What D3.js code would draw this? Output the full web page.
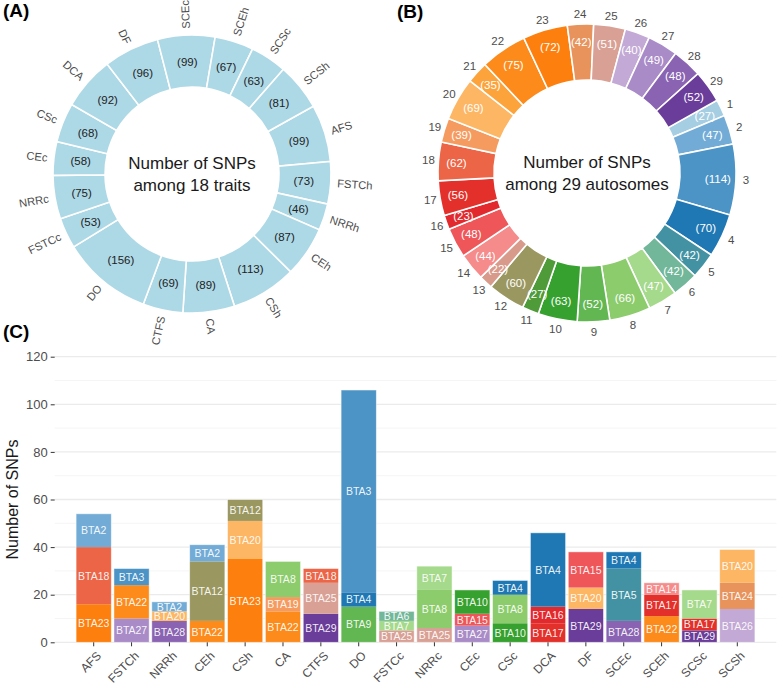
<!DOCTYPE html>
<html><head><meta charset="utf-8">
<script src="https://cdn.jsdelivr.net/npm/d3@7"></script>
<style>body{margin:0;background:#fff;}svg{font-family:Arial,"Liberation Sans",sans-serif;}</style>
</head><body><svg id="chart" width="777" height="686"></svg>
<script>
// ---------- data ----------
const traits = ["AFS","FSTCh","NRRh","CEh","CSh","CA","CTFS","DO","FSTCc","NRRc","CEc","CSc","DCA","DF","SCEc","SCEh","SCSc","SCSh"];
const traitSNPs = [99,73,46,87,113,89,69,156,53,75,58,68,92,96,99,67,63,81];

const chromosomes = ["1","2","3","4","5","6","7","8","9","10","11","12","13","14","15","16","17","18","19","20","21","22","23","24","25","26","27","28","29"];
const chromSNPs = [27,47,114,70,42,42,47,66,52,63,27,60,22,44,48,23,56,62,39,69,35,75,72,42,51,40,49,48,52];
const chromColors = ["#a6cee3","#72acd6","#4c93c6","#1f78b4","#4392a3","#72b79a","#a5d98b","#8ccc6c","#63b752","#37a12f","#4f9b3a","#9b9761","#d89a8a","#f58b8b","#ee5659","#e22a2e","#e3302a","#ec6547","#f59b5f","#fdb663","#fca33c","#fc8b1b","#fd800e","#e8935c","#d9a196","#c3a9d5","#a98bc7","#8a64b2","#6a3d9a"];

// Panel C: three top chromosomes per trait, stacked bottom -> top
const barChrom = [[23,18,2],[27,22,3],[28,20,2],[22,12,2],[23,20,12],[22,19,8],[29,25,18],[9,4,3],[25,7,6],[25,8,7],[27,15,10],[10,8,4],[17,16,4],[29,20,15],[28,5,4],[22,17,14],[29,17,7],[26,24,20]];
const barValues = [[16,24,14],[10,14,7],[9,4,4],[9,25,7],[35,16,9],[13,6,15],[12,13,6],[15,6,85],[5,4,4],[6,16,10],[7,5,10],[8,12,6],[8,7,31],[14,9,15],[9,22,7],[11,9,5],[5,5,12],[14,11,14]];
const yTicks = [0,20,40,60,80,100,120];

// ---------- drawing ----------
const svg = d3.select("#chart");
const deg = Math.PI/180;
const startAngle = 60.8*deg;

function panelLabel(txt,x,y){
  svg.append("text").attr("x",x).attr("y",y).attr("font-size",19).attr("font-weight","bold")
    .attr("fill","#000").text(txt);
}
panelLabel("(A)",3,17);
panelLabel("(B)",397,18);
panelLabel("(C)",3,338);

// Panel A
(function(){
  const cx=192, cy=174, r0=87, r1=139;
  const g = svg.append("g").attr("transform",`translate(${cx},${cy})`);
  const pie = d3.pie().value(d=>d).sort(null).startAngle(startAngle).endAngle(startAngle+2*Math.PI);
  const arcs = pie(traitSNPs);
  const arc = d3.arc().innerRadius(r0).outerRadius(r1);
  g.selectAll("path").data(arcs).join("path").attr("d",arc)
    .attr("fill","#add8e6").attr("stroke","#fff").attr("stroke-width",1.6);
  const mid = d=>(d.startAngle+d.endAngle)/2;
  g.selectAll("text.v").data(arcs).join("text").attr("class","v")
    .attr("x",d=>112*Math.sin(mid(d))).attr("y",d=>-112*Math.cos(mid(d)))
    .attr("text-anchor","middle").attr("dominant-baseline","central")
    .attr("font-size",11.5).attr("fill","#222").text(d=>`(${d.data})`);
  g.selectAll("text.l").data(arcs).join("text").attr("class","l")
    .each(function(d,i){
      const a = mid(d); let ad = (a/deg)%360;
      const flip = ad>180 && ad<350;
      let rot = ad-90 + (flip?180:0);
      const R=145.5;
      d3.select(this).attr("transform",`translate(${R*Math.sin(a)},${-R*Math.cos(a)}) rotate(${rot})`)
        .attr("text-anchor",flip?"end":"start").attr("dominant-baseline","central")
        .attr("font-size",11.2).attr("fill","#4d4d4d").text(traits[i]);
    });
  g.append("text").attr("y",-11).attr("text-anchor","middle").attr("dominant-baseline","central")
    .attr("font-size",17).attr("fill","#1a1a1a").text("Number of SNPs");
  g.append("text").attr("y",11).attr("text-anchor","middle").attr("dominant-baseline","central")
    .attr("font-size",17).attr("fill","#1a1a1a").text("among 18 traits");
})();

// Panel B
(function(){
  const cx=587, cy=173, r0=93, r1=149;
  const g = svg.append("g").attr("transform",`translate(${cx},${cy})`);
  const pie = d3.pie().value(d=>d).sort(null).startAngle(startAngle).endAngle(startAngle+2*Math.PI);
  const arcs = pie(chromSNPs);
  const arc = d3.arc().innerRadius(r0).outerRadius(r1);
  g.selectAll("path").data(arcs).join("path").attr("d",arc)
    .attr("fill",(d,i)=>chromColors[i]).attr("stroke","#fff").attr("stroke-width",1.6);
  const mid = d=>(d.startAngle+d.endAngle)/2;
  g.selectAll("text.v").data(arcs).join("text").attr("class","v")
    .attr("x",d=>131*Math.sin(mid(d))).attr("y",d=>-131*Math.cos(mid(d)))
    .attr("text-anchor","middle").attr("dominant-baseline","central")
    .attr("font-size",11.5).attr("fill","#fff").text(d=>`(${d.data})`);
  g.selectAll("text.l").data(arcs).join("text").attr("class","l")
    .attr("x",d=>159*Math.sin(mid(d))).attr("y",d=>-159*Math.cos(mid(d)))
    .attr("text-anchor","middle").attr("dominant-baseline","central")
    .attr("font-size",11.5).attr("fill","#4d4d4d").text((d,i)=>chromosomes[i]);
  g.append("text").attr("y",-11).attr("text-anchor","middle").attr("dominant-baseline","central")
    .attr("font-size",17).attr("fill","#1a1a1a").text("Number of SNPs");
  g.append("text").attr("y",11).attr("text-anchor","middle").attr("dominant-baseline","central")
    .attr("font-size",17).attr("fill","#1a1a1a").text("among 29 autosomes");
})();

// Panel C
(function(){
  const left=54.7, right=776.3, top=356.7, bottom=642.3;
  const x = d3.scaleBand().domain(traits).range([left,right]).paddingInner(0.07).paddingOuter(0.565);
  const y = d3.scaleLinear().domain([0,120]).range([bottom,top]);
  const g = svg.append("g");
  // grid
  const minor = d3.range(10,120,20);
  g.selectAll("line.mi").data(minor).join("line").attr("x1",left).attr("x2",right)
    .attr("y1",d=>y(d)).attr("y2",d=>y(d)).attr("stroke","#f2f2f2").attr("stroke-width",0.8);
  g.selectAll("line.ma").data(yTicks).join("line").attr("x1",left).attr("x2",right)
    .attr("y1",d=>y(d)).attr("y2",d=>y(d)).attr("stroke","#ebebeb").attr("stroke-width",1.3);
  // bars
  traits.forEach((t,i)=>{
    let cum=0;
    barValues[i].forEach((v,j)=>{
      const y0=cum, y1=cum+v; cum=y1;
      const c = barChrom[i][j];
      g.append("rect").attr("x",x(t)).attr("width",x.bandwidth())
        .attr("y",y(y1)).attr("height",y(y0)-y(y1))
        .attr("fill",chromColors[c-1]);
      g.append("text").attr("x",x(t)+x.bandwidth()/2).attr("y",y((y0+y1)/2))
        .attr("text-anchor","middle").attr("dominant-baseline","central")
        .attr("font-size",10.5).attr("fill","#fff").attr("fill-opacity",0.92).text("BTA"+c);
    });
    g.append("rect").attr("x",x(t)).attr("width",x.bandwidth()).attr("y",y(cum)).attr("height",y(0)-y(cum))
      .attr("fill","none").attr("stroke","#fff").attr("stroke-opacity",0.6).attr("stroke-width",0.8);
  });
  // y axis
  const ya = g.append("g").attr("transform",`translate(${left},0)`)
    .call(d3.axisLeft(y).tickValues(yTicks).tickSize(4).tickPadding(3));
  ya.select(".domain").remove();
  ya.selectAll(".tick line").attr("stroke","#333").attr("stroke-width",1);
  ya.selectAll(".tick text").attr("font-size",13).attr("fill","#4d4d4d").attr("font-family","Arial,Liberation Sans,sans-serif");
  // x axis
  const xa = g.append("g").attr("transform",`translate(0,${bottom})`)
    .call(d3.axisBottom(x).tickSize(4).tickPadding(3));
  xa.select(".domain").remove();
  xa.selectAll(".tick line").attr("stroke","#333").attr("stroke-width",1);
  xa.selectAll(".tick text").attr("font-size",12).attr("fill","#4d4d4d").attr("font-family","Arial,Liberation Sans,sans-serif")
    .attr("text-anchor","end").attr("dy",null).attr("y",null)
    .attr("transform","translate(2,8) rotate(-45)").attr("dominant-baseline","hanging");
  // y title
  svg.append("text").attr("transform",`translate(12,${(top+bottom)/2}) rotate(-90)`)
    .attr("text-anchor","middle").attr("dominant-baseline","central")
    .attr("font-size",16).attr("fill","#1a1a1a").text("Number of SNPs");
})();
</script></body></html>
